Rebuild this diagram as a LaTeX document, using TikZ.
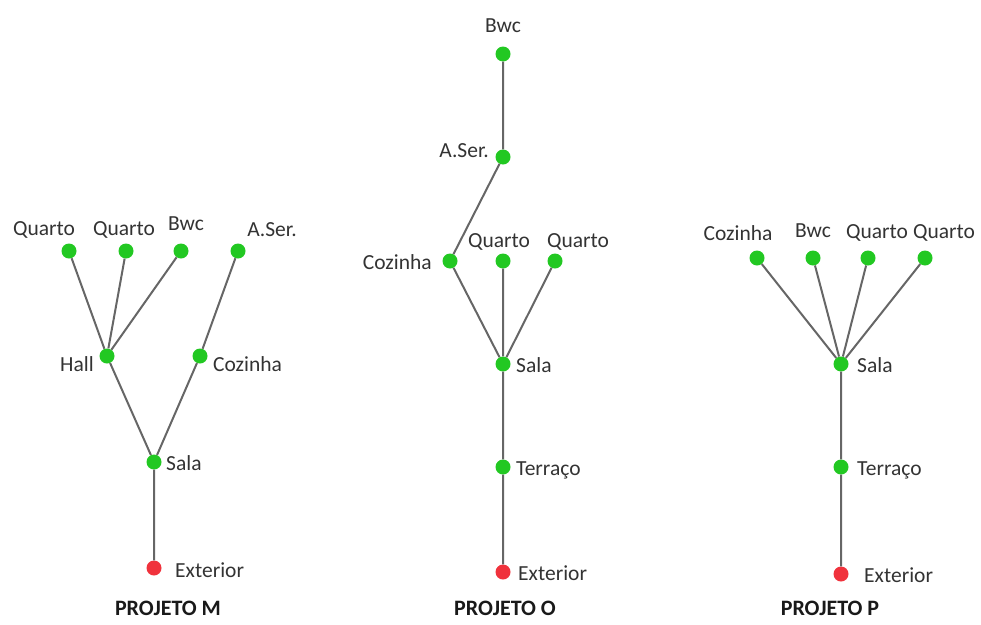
\documentclass[tikz,border=0pt]{standalone}
\usepackage{fontspec}
\setmainfont{Carlito}
\begin{document}
\begin{tikzpicture}[x=1pt,y=-1pt,
  gdot/.style={circle,draw=none,minimum size=15pt,inner sep=0pt},
  rdot/.style={circle,draw=none,minimum size=15pt,inner sep=0pt},
  lbl/.style={font=\fontsize{21.5}{23}\selectfont,text=black!80,inner sep=0pt},
  ttl/.style={font=\fontsize{22}{24}\selectfont\bfseries,text=black!90,inner sep=0pt},
  edge/.style={draw=black!60,line width=2pt}]
\useasboundingbox (0,0) rectangle (981,624);
\definecolor{dotg}{RGB}{34,200,34}
\definecolor{dotr}{RGB}{240,50,60}
\tikzset{gdot/.append style={fill=dotg},rdot/.append style={fill=dotr}}
% PROJETO M
\node[gdot] (mq1) at (69,251) {};
\node[gdot] (mq2) at (126,251) {};
\node[gdot] (mb) at (181,251) {};
\node[gdot] (ma) at (238,251) {};
\node[gdot] (mh) at (107,356) {};
\node[gdot] (mc) at (200,356) {};
\node[gdot] (ms) at (154,462) {};
\node[rdot] (me) at (154,568) {};
\draw[edge] (mq1) -- (mh) (mq2) -- (mh) (mb) -- (mh) (ma) -- (mc)
  (mh) -- (ms) (mc) -- (ms) (ms) -- (me);
\node[lbl] (lmq1) at (44,230) {Quarto};
\node[lbl] (lmq2) at (124,230) {Quarto};
\node[lbl] (lmb) at (186,224) {Bwc};
\node[lbl] (lma) at (272,230) {A.Ser.};
\node[lbl,anchor=east] (lmh) at (94,364) {Hall};
\node[lbl,anchor=west] (lmc) at (213,364) {Cozinha};
\node[lbl,anchor=west] (lms) at (166,463) {Sala};
\node[lbl,anchor=west] (lme) at (175,570) {Exterior};
\node[ttl] (tm) at (168,608) {PROJETO M};
% PROJETO O
\node[gdot] (ob) at (503,54) {};
\node[gdot] (oa) at (503,157) {};
\node[gdot] (oc) at (450,261) {};
\node[gdot] (oq1) at (503,261) {};
\node[gdot] (oq2) at (555,261) {};
\node[gdot] (os) at (503,364) {};
\node[gdot] (ot) at (503,467) {};
\node[rdot] (oe) at (503,572) {};
\draw[edge] (ob) -- (oa) (oa) -- (oc) (oc) -- (os) (oq1) -- (os) (oq2) -- (os)
  (os) -- (ot) (ot) -- (oe);
\node[lbl] (lob) at (503,26) {Bwc};
\node[lbl,anchor=east] (loa) at (489,151) {A.Ser.};
\node[lbl,anchor=east] (loc) at (432,262) {Cozinha};
\node[lbl] (loq1) at (499,242) {Quarto};
\node[lbl] (loq2) at (578,242) {Quarto};
\node[lbl,anchor=west] (los) at (516,365) {Sala};
\node[lbl,anchor=west] (lot) at (516,470) {Terraço};
\node[lbl,anchor=west] (loe) at (518,573) {Exterior};
\node[ttl] (to) at (505,608) {PROJETO O};
% PROJETO P
\node[gdot] (pc) at (757,258) {};
\node[gdot] (pb) at (813,258) {};
\node[gdot] (pq1) at (868,258) {};
\node[gdot] (pq2) at (925,258) {};
\node[gdot] (ps) at (841,364) {};
\node[gdot] (pt) at (841,467) {};
\node[rdot] (pe) at (841,574) {};
\draw[edge] (pc) -- (ps) (pb) -- (ps) (pq1) -- (ps) (pq2) -- (ps)
  (ps) -- (pt) (pt) -- (pe);
\node[lbl] (lpc) at (738,233) {Cozinha};
\node[lbl] (lpb) at (813,231) {Bwc};
\node[lbl] (lpq1) at (877,233) {Quarto};
\node[lbl] (lpq2) at (944,233) {Quarto};
\node[lbl,anchor=west] (lps) at (857,365) {Sala};
\node[lbl,anchor=west] (lpt) at (857,470) {Terraço};
\node[lbl,anchor=west] (lpe) at (864,575) {Exterior};
\node[ttl] (tp) at (830,608) {PROJETO P};
\end{tikzpicture}
\end{document}
